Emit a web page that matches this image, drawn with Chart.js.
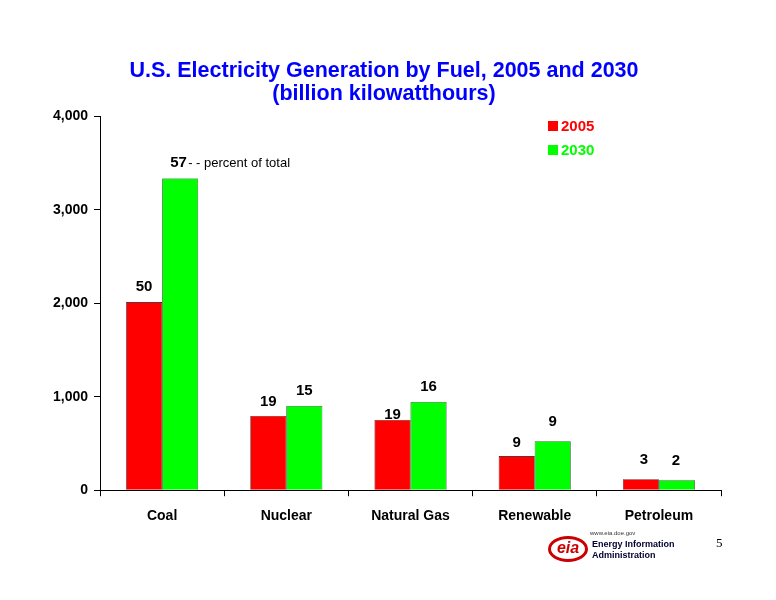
<!DOCTYPE html>
<html><head><meta charset="utf-8">
<script src="https://cdn.jsdelivr.net/npm/chart.js@4/dist/chart.umd.min.js"></script>
<style>body{margin:0;background:#fff;width:776px;height:600px;overflow:hidden;font-family:"Liberation Sans",Arial,sans-serif}
#wrap{position:absolute;left:0;top:0;width:776px;height:600px}</style>
</head><body>
<div id="wrap"><canvas id="c" width="776" height="600"></canvas></div>
<div style="position:absolute;left:716px;top:535px;font-family:'Liberation Serif',serif;font-size:13px">5</div>
<div style="position:absolute;left:548px;top:530px;width:130px;height:34px">
 <div style="position:absolute;left:0;top:6px;width:40px;height:26px;border:3px solid #c00;border-radius:50%;box-sizing:border-box;color:#c00;font-weight:bold;font-size:16px;line-height:18px;text-align:center;font-style:italic">eia</div>
 <div style="position:absolute;left:42px;top:0;font-size:6px;color:#333">www.eia.doe.gov</div>
 <div style="position:absolute;left:44px;top:9px;font-size:9px;color:#003;font-weight:bold;line-height:11px">Energy Information<br>Administration</div>
</div>
<script>
const categories=["Coal","Nuclear","Natural Gas","Renewable","Petroleum"];
const values2005=[2013,794,751,365,118];
const values2030=[3335,901,944,525,107];
const pct2005=["50","19","19","9","3"];
const pct2030=["57","15","16","9","2"];
const yTicks=[0,1000,2000,3000,4000];
const labelPlugin={id:"lbl",afterDatasetsDraw(ch){
 const ctx=ch.ctx;ctx.save();ctx.font="bold 15px 'Liberation Sans',Arial";ctx.fillStyle="#000";ctx.textAlign="center";ctx.textBaseline="bottom";
 [pct2005,pct2030].forEach((arr,di)=>{ch.getDatasetMeta(di).data.forEach((b,i)=>{
   if(di===1&&i===0)return;
   let y=b.y-8; if(di===0&&i===1)y=b.y-7; if(di===0&&i===2)y=b.y+2;
   if(i===3||i===4) y=b.y-12;
   if(di===0&&i===3) y=b.y-6;
   ctx.fillText(arr[i],b.x+(i===4?(di===0?3:-1):0),y);});});
 const b=ch.getDatasetMeta(1).data[0];
 ctx.textAlign="left";ctx.fillText("57",b.x-10,b.y-8);
 ctx.font="13px 'Liberation Sans',Arial";ctx.fillText("- - percent of total",b.x+8,b.y-9);
 ctx.restore();}};
new Chart(document.getElementById("c"),{type:"bar",
 data:{labels:categories,datasets:[
  {label:"2005",data:values2005,backgroundColor:"#ff0000",borderColor:"#000",borderWidth:0.6,categoryPercentage:0.58,barPercentage:1},
  {label:"2030",data:values2030,backgroundColor:"#00ff00",borderColor:"#000",borderWidth:0.6,categoryPercentage:0.58,barPercentage:1}]},
 options:{responsive:false,animation:false,
  layout:{padding:{left:47,right:55,top:8,bottom:63}},
  plugins:{title:{display:true,text:["U.S. Electricity Generation by Fuel, 2005 and 2030","(billion kilowatthours)"],color:"#0000ff",font:{family:"'Liberation Sans',Arial",size:21.5,weight:"bold",lineHeight:1.1},padding:{top:51,bottom:10}},
   legend:{display:false},tooltip:{enabled:false}},
  scales:{x:{grid:{display:true,drawOnChartArea:false,tickLength:6,color:"#000",offset:true},border:{color:"#000"},ticks:{color:"#000",font:{family:"'Liberation Sans',Arial",size:14,weight:"bold"},padding:12}},
   y:{min:0,max:4000,afterBuildTicks(a){a.ticks=yTicks.map(v=>({value:v}));},grid:{display:true,drawOnChartArea:false,tickLength:6,color:"#000"},border:{color:"#000"},
    ticks:{color:"#000",font:{family:"'Liberation Sans',Arial",size:14,weight:"bold"},padding:6,callback:v=>v.toLocaleString("en-US")}}}},
 plugins:[labelPlugin,{id:"leg",afterDraw(ch){const ctx=ch.ctx;ctx.save();ctx.font="bold 15px 'Liberation Sans',Arial";ctx.textBaseline="middle";
  [["2005","#ff0000",126],["2030","#00ff00",150]].forEach(([t,c,y])=>{ctx.fillStyle=c;ctx.fillRect(548,y-5,10,10);ctx.fillText(t,561,y+1);});ctx.restore();}}]
});
</script></body></html>
